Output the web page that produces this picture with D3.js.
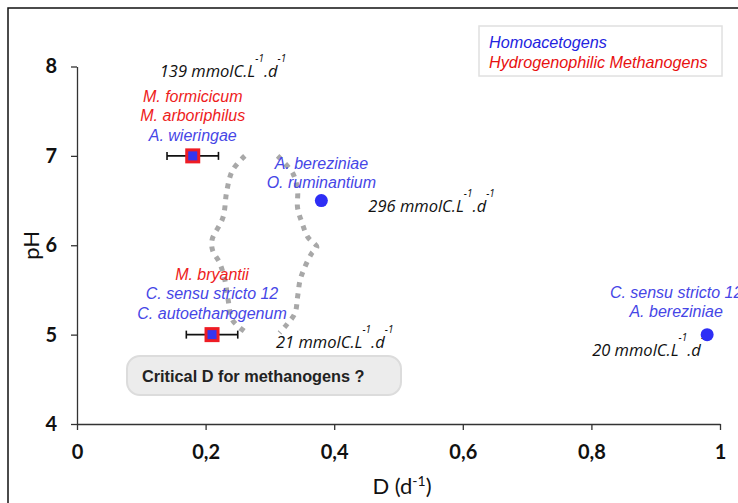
<!DOCTYPE html>
<html><head><meta charset="utf-8">
<script src="https://cdn.jsdelivr.net/npm/d3@7"></script>
<style>body{margin:0;background:#fff}svg{display:block}</style>
</head><body>
<svg id="c" width="738" height="503"></svg>
<script>
// ---- data ----
const xTicks = [0, 0.2, 0.4, 0.6, 0.8, 1];
const xTickLabels = ["0", "0,2", "0,4", "0,6", "0,8", "1"];
const yTicks = [4, 5, 6, 7, 8];
const yTickLabels = ["4", "5", "6", "7", "8"];

// observed points: dilution rate D (1/d), pH, error on D, marker type
const pointD   = [0.18, 0.21, 0.38, 0.98];
const pointPH  = [7, 5, 6.5, 5];
const pointErr = [0.04, 0.04, 0, 0];
const pointType = ["both", "both", "homo", "homo"];

// species labels attached to points
const labelLines = [
  [["M. formicicum","red"],["M. arboriphilus","red"],["A. wieringae","blue"]],
  [["M. bryantii","red"],["C. sensu stricto 12","blue"],["C. autoethanogenum","blue"]],
  [["A. bereziniae","blue"],["O. ruminantium","blue"]],
  [["C. sensu stricto 12","blue"],["A. bereziniae","blue"]]
];
const rateValues = ["139", "21", "296", "20"];

// boundary of critical D zone (dotted curves)
const leftCurveD  = [0.261,0.242,0.233,0.227,0.210,0.211,0.222,0.230,0.235,0.242,0.264];
const leftCurvePH = [7.00,6.84,6.61,6.31,6.06,5.94,5.80,5.61,5.39,5.16,5.02];
const rightCurveD  = [0.312,0.336,0.343,0.343,0.350,0.359,0.373,0.365,0.354,0.347,0.343,0.339,0.326,0.315];
const rightCurvePH = [7.00,6.80,6.61,6.42,6.25,6.09,5.98,5.91,5.75,5.61,5.42,5.24,5.11,5.02];

const legendItems = [["Homoacetogens","blue"],["Hydrogenophilic Methanogens","red"]];
const calloutText = "Critical D for methanogens ?";

// ---- drawing ----
const colors = {red:"#ee1c1c", blue:"#4646e6", legBlue:"#2323e0", legRed:"#e81010", dot:"#2e2ef5"};
const svg = d3.select("#c");
const x = d3.scaleLinear().domain([0,1]).range([77,720]);
const y = d3.scaleLinear().domain([4,8]).range([424,66.5]);
const sans = "'Liberation Sans', Arial, sans-serif";

// frame
svg.append("rect").attr("x",8).attr("y",8).attr("width",760).attr("height",520)
  .attr("fill","none").attr("stroke","#111").attr("stroke-width",1.5);

// axes
const xAxis = d3.axisBottom(x).tickValues(xTicks).tickFormat((d,i)=>xTickLabels[i]).tickSize(6).tickSizeOuter(0);
const yAxis = d3.axisLeft(y).tickValues(yTicks).tickFormat((d,i)=>yTickLabels[i]).tickSize(6).tickSizeOuter(0);
const gx = svg.append("g").attr("transform",`translate(0,${y(4)})`).call(xAxis);
const gy = svg.append("g").attr("transform",`translate(${x(0)},0)`).call(yAxis);
[gx,gy].forEach(g=>{
  g.selectAll("path,line").attr("stroke","#333").attr("stroke-width",1.3);
  g.selectAll("text").attr("font-family","Lato, 'Open Sans', sans-serif").attr("font-weight","bold")
   .attr("font-size",20).attr("fill","#111");
});
gx.selectAll("text").attr("dy","1.3em");
gy.selectAll("text").attr("dx","-0.55em");

// axis titles
svg.append("text").attr("transform",`translate(39,${y(6)}) rotate(-90)`).attr("text-anchor","middle")
  .attr("font-family","Lato, sans-serif").attr("font-size",22).attr("fill","#111").text("pH");
const xt = svg.append("text").attr("x",402).attr("y",494).attr("text-anchor","middle")
  .attr("font-family","Lato, sans-serif").attr("font-size",22).attr("fill","#111");
xt.append("tspan").text("D (d");
xt.append("tspan").attr("dy",-8).attr("font-size",14).text("-1");
xt.append("tspan").attr("dy",8).text(")");

// dotted curves
const line = d3.line().x(d=>x(d[0])).y(d=>y(d[1])).curve(d3.curveCatmullRom);
[[leftCurveD,leftCurvePH],[rightCurveD,rightCurvePH]].forEach(([ds,ps])=>{
  svg.append("path").attr("d",line(ds.map((d,i)=>[d,ps[i]])))
    .attr("fill","none").attr("stroke","#a8a8a8").attr("stroke-width",5)
    .attr("stroke-dasharray","5,6");
});

// callout
svg.append("rect").attr("x",127).attr("y",356).attr("width",274).attr("height",39).attr("rx",13)
  .attr("fill","#ececec").attr("stroke","#dcdcdc").attr("stroke-width",2);
svg.append("text").attr("x",142).attr("y",382).attr("font-family",sans)
  .attr("font-weight","bold").attr("font-size",16.3).attr("fill","#222").text(calloutText);

// legend
svg.append("rect").attr("x",479).attr("y",26).attr("width",243).attr("height",50)
  .attr("fill","#fff").attr("stroke","#e0e0e0").attr("stroke-width",1.5);
legendItems.forEach((it,i)=>{
  svg.append("text").attr("x",489).attr("y",48+i*19.5).attr("font-family",sans)
    .attr("font-style","italic").attr("font-size",16.2)
    .attr("fill",it[1]==="blue"?colors.legBlue:colors.legRed).text(it[0]);
});

// species labels: positions relative to point (offsets)
const labelAnchor = [[0,-54],[0,-55],[0,-32],[-31,-37]];
labelLines.forEach((lines,k)=>{
  const cx = x(pointD[k]) + labelAnchor[k][0];
  const cy = y(pointPH[k]) + labelAnchor[k][1];
  lines.forEach((ln,j)=>{
    svg.append("text").attr("x",cx).attr("y",cy + j*19.5).attr("text-anchor","middle")
      .attr("font-family",sans).attr("font-style","italic")
      .attr("font-size",16).attr("fill",ln[1]==="blue"?colors.blue:colors.red).text(ln[0]);
  });
});

// rate labels
const rateAnchor = [[-33,-79],[64,13],[47,11],[-115,21]];
rateValues.forEach((v,k)=>{
  const t = svg.append("text").attr("x",x(pointD[k])+rateAnchor[k][0]).attr("y",y(pointPH[k])+rateAnchor[k][1])
    .attr("font-family","'Open Sans', sans-serif").attr("font-style","italic").attr("font-size",16.5).attr("fill","#111");
  t.append("tspan").text(v+" mmolC.L");
  t.append("tspan").attr("dy",-15).attr("font-size",10).text("-1");
  t.append("tspan").attr("dy",15).text(".d");
  t.append("tspan").attr("dy",-15).attr("font-size",10).text("-1");
});

// error bars
pointD.forEach((d,k)=>{
  if(!pointErr[k]) return;
  const yy = y(pointPH[k]);
  const g = svg.append("g").attr("stroke","#111").attr("stroke-width",1.6);
  g.append("line").attr("x1",x(d-pointErr[k])).attr("x2",x(d+pointErr[k])).attr("y1",yy).attr("y2",yy);
  [d-pointErr[k], d+pointErr[k]].forEach(e=>g.append("line").attr("x1",x(e)).attr("x2",x(e)).attr("y1",yy-4).attr("y2",yy+4));
});

// markers
pointD.forEach((d,k)=>{
  const cx = x(d), cy = y(pointPH[k]);
  if(pointType[k]==="both"){
    svg.append("rect").attr("x",cx-7.5).attr("y",cy-7.5).attr("width",15).attr("height",15).attr("fill","#ee1c24");
    svg.append("rect").attr("x",cx-4.5).attr("y",cy-4.5).attr("width",9).attr("height",9).attr("fill","#3535f0");
  } else {
    svg.append("circle").attr("cx",cx).attr("cy",cy).attr("r",6.5).attr("fill",colors.dot);
  }
});
</script>
</body></html>
